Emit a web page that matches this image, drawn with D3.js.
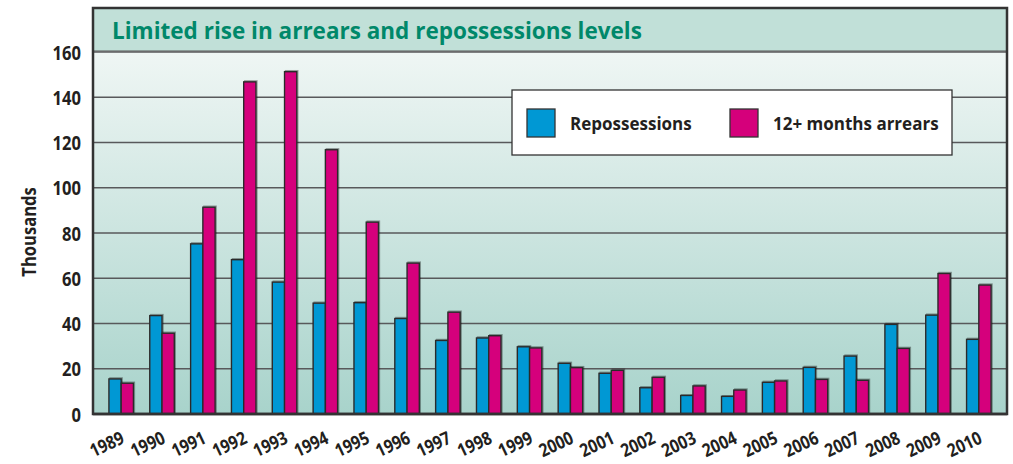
<!DOCTYPE html>
<html>
<head>
<meta charset="utf-8">
<script src="https://cdn.jsdelivr.net/npm/d3@7"></script>
<style>
  body { margin: 0; background: #fff; }
  svg { display: block; }
  .tick-label { font-family: "Open Sans", "Noto Sans", sans-serif; font-weight: bold; fill: #231f20; }
</style>
</head>
<body>
<svg id="chart" width="1013" height="464"></svg>
<script>
// chart data
var years = ['1989', '1990', '1991', '1992', '1993', '1994', '1995', '1996', '1997', '1998', '1999',
             '2000', '2001', '2002', '2003', '2004', '2005', '2006', '2007', '2008', '2009', '2010'];
var repossessions = [15.5, 43.5, 75.2, 68.2, 58.3, 49.0, 49.2, 42.2, 32.5, 33.6, 29.7,
                     22.4, 18.0, 11.6, 8.2, 7.8, 14.0, 20.6, 25.6, 39.6, 43.7, 33.0];
var arrears = [13.6, 35.7, 91.4, 146.8, 151.3, 116.8, 84.8, 66.7, 45.0, 34.6, 29.2,
               20.5, 19.3, 16.2, 12.4, 10.6, 14.6, 15.3, 14.9, 29.0, 62.1, 57.0];
var yTicks = [0, 20, 40, 60, 80, 100, 120, 140, 160];
var seriesNames = ['Repossessions', '12+ months arrears'];
var seriesColors = ['#0098d4', '#d5007b'];

var title = 'Limited rise in arrears and repossessions levels';

var frame = { left: 93, right: 1007, top: 8, titleBottom: 51 };
var plot = { top: 52, bottom: 414 };
var narrow = 0.85; // the axis font in the picture is a condensed face

var svg = d3.select('#chart');
var defs = svg.append('defs');

// background gradient of the plot area
var grad = defs.append('linearGradient')
  .attr('id', 'plotBg')
  .attr('x1', 0).attr('y1', 0).attr('x2', 0).attr('y2', 1);
grad.append('stop').attr('offset', '0%').attr('stop-color', '#eff6f4');
grad.append('stop').attr('offset', '100%').attr('stop-color', '#a8d3cb');

var shadow = defs.append('filter').attr('id', 'shadow')
  .attr('x', '-20%').attr('y', '-5%').attr('width', '150%').attr('height', '110%');
shadow.append('feDropShadow')
  .attr('dx', 1).attr('dy', -1).attr('stdDeviation', 0.6)
  .attr('flood-color', '#000').attr('flood-opacity', 0.35);

var x = d3.scaleBand()
  .domain(years)
  .range([frame.left, frame.right])
  .paddingInner(0.4)
  .paddingOuter(0.39);

var xSeries = d3.scaleBand()
  .domain([0, 1])
  .range([0, x.bandwidth()]);

var y = d3.scaleLinear()
  .domain([0, 160])
  .range([plot.bottom, plot.top]);

// title band
svg.append('rect')
  .attr('x', frame.left).attr('y', frame.top)
  .attr('width', frame.right - frame.left)
  .attr('height', frame.titleBottom - frame.top)
  .attr('fill', '#c1e0d8');

svg.append('text')
  .attr('x', frame.left + 19)
  .attr('y', 39)
  .attr('font-family', '"Open Sans", "Noto Sans", sans-serif')
  .attr('font-weight', 'bold')
  .attr('font-size', 22.5)
  .attr('fill', '#00886a')
  .text(title);

// plot background
svg.append('rect')
  .attr('x', frame.left).attr('y', plot.top)
  .attr('width', frame.right - frame.left)
  .attr('height', plot.bottom - plot.top)
  .attr('fill', 'url(#plotBg)');

// grid lines
svg.append('g')
  .selectAll('line')
  .data(yTicks.slice(1))
  .enter().append('line')
  .attr('x1', frame.left).attr('x2', frame.right)
  .attr('y1', function (d) { return y(d); })
  .attr('y2', function (d) { return y(d); })
  .attr('stroke', '#58595b')
  .attr('stroke-width', 1.6);

// y axis labels
var yAxis = d3.axisLeft(y).tickValues(yTicks).tickSize(0);
var yAxisG = svg.append('g')
  .attr('transform', 'translate(' + frame.left + ',0)')
  .call(yAxis);
yAxisG.select('.domain').remove();
yAxisG.selectAll('text')
  .attr('class', 'tick-label')
  .attr('font-size', 19.5)
  .attr('x', 0)
  .attr('dy', '0.36em')
  .attr('transform', 'translate(-12,0) scale(' + narrow + ',1)');

svg.append('text')
  .attr('class', 'tick-label')
  .attr('transform', 'translate(36,232) rotate(-90) scale(' + narrow + ',1)')
  .attr('text-anchor', 'middle')
  .attr('font-size', 19.5)
  .text('Thousands');

// bars
var groups = svg.append('g')
  .selectAll('g')
  .data(years)
  .enter().append('g')
  .attr('transform', function (d) { return 'translate(' + x(d) + ',0)'; });

[repossessions, arrears].forEach(function (values, s) {
  groups.append('rect')
    .attr('x', xSeries(s))
    .attr('y', function (d, i) { return y(values[i]); })
    .attr('width', xSeries.bandwidth())
    .attr('height', function (d, i) { return y(0) - y(values[i]); })
    .attr('fill', seriesColors[s])
    .attr('stroke', '#2b2b2b')
    .attr('stroke-width', 1.4)
    .attr('filter', 'url(#shadow)');
});

// x axis labels
var xAxis = d3.axisBottom(x).tickSize(0).tickPadding(0);
var xAxisG = svg.append('g')
  .attr('transform', 'translate(0,' + plot.bottom + ')')
  .call(xAxis);
xAxisG.select('.domain').remove();
xAxisG.selectAll('text')
  .attr('class', 'tick-label')
  .attr('font-size', 18.3)
  .attr('text-anchor', 'end')
  .attr('y', 0)
  .attr('dy', 0)
  .attr('transform', 'translate(4.5,28.5) rotate(-25) scale(' + narrow + ',1)');

// axis lines and frame
svg.append('line')
  .attr('x1', frame.left).attr('x2', frame.right)
  .attr('y1', plot.bottom).attr('y2', plot.bottom)
  .attr('stroke', '#333').attr('stroke-width', 2.5);

svg.append('line')
  .attr('x1', frame.left).attr('x2', frame.right)
  .attr('y1', frame.titleBottom).attr('y2', frame.titleBottom)
  .attr('stroke', '#555').attr('stroke-width', 1);

svg.append('rect')
  .attr('x', frame.left).attr('y', frame.top)
  .attr('width', frame.right - frame.left)
  .attr('height', plot.bottom - frame.top)
  .attr('fill', 'none')
  .attr('stroke', '#333')
  .attr('stroke-width', 2.5);

// legend
var legend = svg.append('g').attr('transform', 'translate(512,90)');
legend.append('rect')
  .attr('width', 440).attr('height', 65)
  .attr('fill', '#fff')
  .attr('stroke', '#333')
  .attr('stroke-width', 1.3);

var legendX = [15, 218];
seriesNames.forEach(function (name, s) {
  legend.append('rect')
    .attr('x', legendX[s]).attr('y', 19)
    .attr('width', 28).attr('height', 28)
    .attr('fill', seriesColors[s])
    .attr('stroke', '#333')
    .attr('stroke-width', 1.3);
  legend.append('text')
    .attr('class', 'tick-label')
    .attr('x', legendX[s] + 43)
    .attr('y', 40)
    .attr('font-size', 17)
    .text(name);
});
</script>
</body>
</html>
